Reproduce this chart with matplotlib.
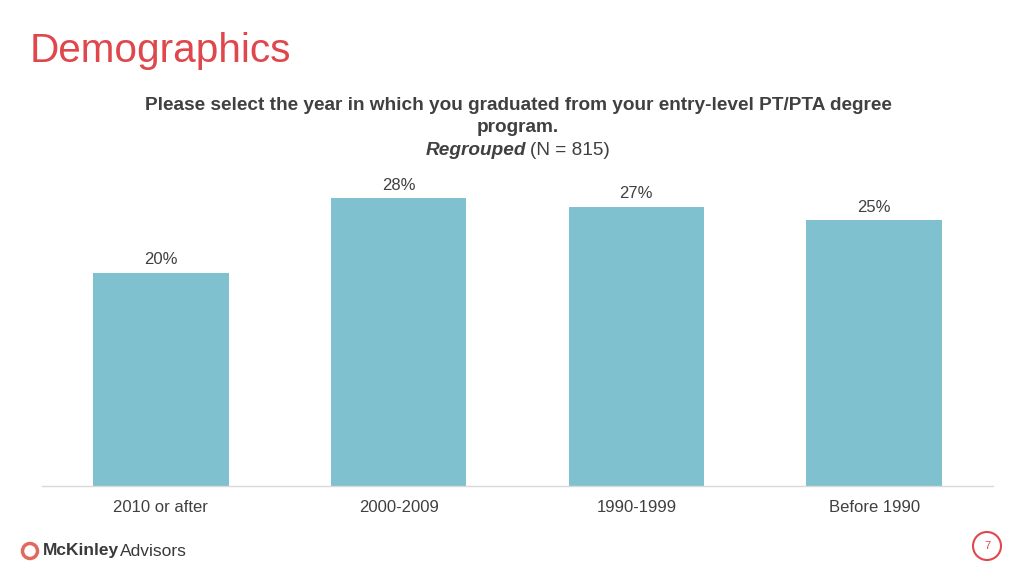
import matplotlib.pyplot as plt
from matplotlib.patches import Ellipse

plt.rcParams['font.family'] = ['Liberation Sans', 'DejaVu Sans']

categories = ["2010 or after", "2000-2009", "1990-1999", "Before 1990"]
values = [20.4, 27.5, 26.7, 25.4]
labels = ["20%", "28%", "27%", "25%"]

bar_color = "#7fc1cf"
red = "#e0474c"

fig = plt.figure(figsize=(10.24, 5.76), dpi=100)
W, H = 1024, 576

# chart area: x 42..993, y 170..486 (pixels from top)
ax = fig.add_axes([42 / W, 1 - 486 / H, (993 - 42) / W, (486 - 170) / H])
x = range(len(categories))
bars = ax.bar(x, values, width=0.57, color=bar_color)
for b, lab in zip(bars, labels):
    ax.text(b.get_x() + b.get_width() / 2, b.get_height() + 0.5, lab,
            ha="center", va="bottom", fontsize=12, color="#404040")

ax.set_xlim(-0.5, 3.5)
ax.set_ylim(0, 30.2)
ax.set_xticks(list(x))
ax.set_xticklabels(categories, fontsize=12, color="#404040")
ax.tick_params(axis="x", length=0, pad=10)
ax.set_yticks([])
for s in ["top", "right", "left"]:
    ax.spines[s].set_visible(False)
ax.spines["bottom"].set_color("#d9d9d9")
ax.spines["bottom"].set_linewidth(1)

# page title
fig.text(30 / W, 1 - 51 / H, "Demographics", fontsize=29.2, color=red,
         ha="left", va="center")

# chart title
fig.text(518 / W, 1 - 106 / H,
         "Please select the year in which you graduated from your entry-level PT/PTA degree",
         fontsize=13.7, fontweight="bold", color="#404040", ha="center", va="center")
fig.text(518 / W, 1 - 128 / H, "program.",
         fontsize=13.7, fontweight="bold", color="#404040", ha="center", va="center")
fig.text(526 / W, 1 - 150 / H, "Regrouped", fontsize=13.7, fontweight="bold",
         fontstyle="italic", color="#404040", ha="right", va="center")
fig.text(530 / W, 1 - 150 / H, "(N = 815)", fontsize=13.7,
         color="#404040", ha="left", va="center")

# logo
fig.patches.append(Ellipse((30 / W, 1 - 551 / H), 15 / W, 15 / H, transform=fig.transFigure,
                           facecolor="none", edgecolor="#e06a5f", linewidth=2.5))
fig.text(43 / W, 1 - 551 / H, "McKinley", fontsize=12.5, fontweight="bold",
         color="#3a3a3a", ha="left", va="center")
fig.text(120 / W, 1 - 551 / H, "Advisors", fontsize=12.5,
         color="#3a3a3a", ha="left", va="center")

# page number
fig.patches.append(Ellipse((987 / W, 1 - 546 / H), 28 / W, 28 / H, transform=fig.transFigure,
                           facecolor="none", edgecolor=red, linewidth=1.5))
fig.text(987 / W, 1 - 546 / H, "7", fontsize=8, color=red, ha="center", va="center")

fig.savefig("out.png", dpi=100)
